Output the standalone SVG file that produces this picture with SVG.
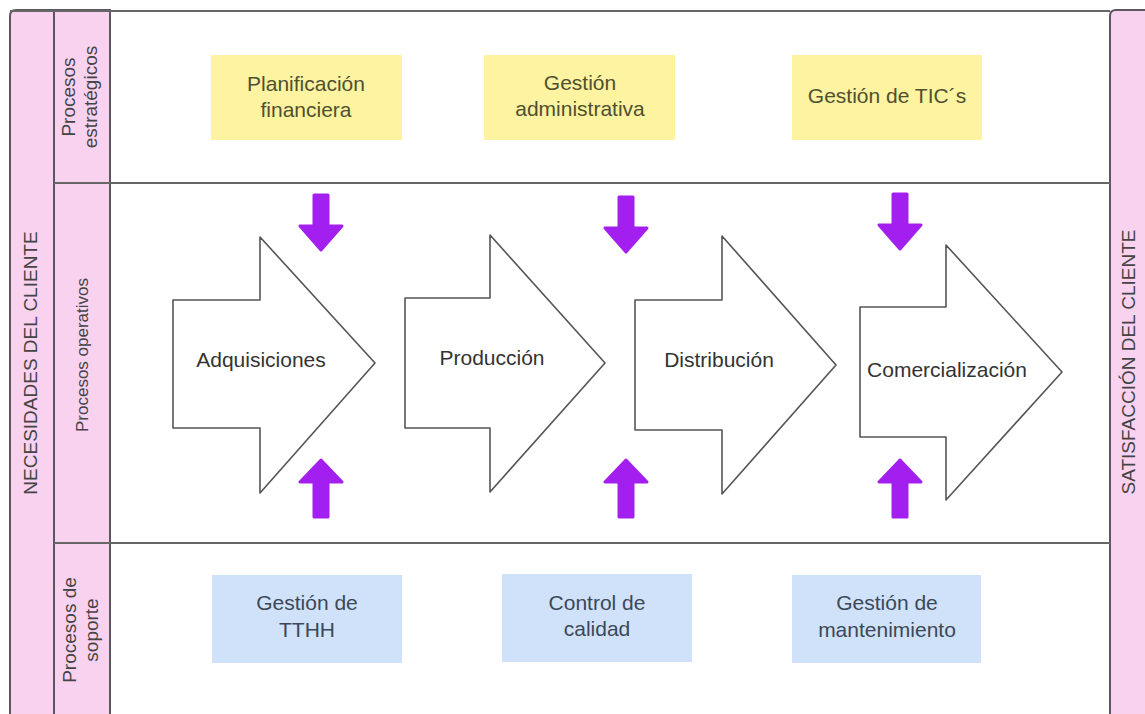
<svg xmlns="http://www.w3.org/2000/svg" width="1145" height="714" viewBox="0 0 1145 714">
  <style>
    .pink { fill: #f9d2f0; stroke: #5c5660; stroke-width: 2; }
    .rule { stroke: #666666; stroke-width: 2; fill: none; }
    .side { font-family: "Liberation Sans", Arial, sans-serif; font-size: 19px; fill: #444444; text-anchor: middle; }
    .lane { font-family: "Liberation Sans", Arial, sans-serif; font-size: 19px; fill: #444444; text-anchor: middle; }
    .strat rect { fill: #fdf3a0; }
    .strat text { font-family: "Liberation Sans", Arial, sans-serif; font-size: 21px; fill: #505030; text-anchor: middle; }
    .supp rect { fill: #cfe2f9; }
    .supp text { font-family: "Liberation Sans", Arial, sans-serif; font-size: 21px; fill: #3c4858; text-anchor: middle; }
    .stage path { fill: #ffffff; stroke: #555555; stroke-width: 1.6; stroke-linejoin: round; }
    .stage text { font-family: "Liberation Sans", Arial, sans-serif; font-size: 21px; fill: #333333; text-anchor: middle; }
    .flow { fill: #a31ff0; stroke: #a31ff0; stroke-width: 3; stroke-linejoin: round; }
  </style>
  <defs>
    <path id="down" d="M -7 0 H 7 V 31 H 21 L 0 55 L -21 31 H -7 Z"/>
    <path id="up" d="M -7 57 H 7 V 22 H 21 L 0 0 L -21 22 H -7 Z"/>
  </defs>

  <rect width="1145" height="714" fill="#ffffff"/>

  <!-- outer side bands -->
  <g id="necesidades">
    <path class="pink" d="M 10 730 V 16 Q 10 10 16 10 H 54 V 730"/>
    <text class="side" transform="translate(37 363) rotate(-90)">NECESIDADES DEL CLIENTE</text>
  </g>
  <g id="satisfaccion">
    <path class="pink" d="M 1110 730 V 16 Q 1110 10 1116 10 H 1160 V 730"/>
    <text class="side" transform="translate(1135 362) rotate(-90)">SATISFACCIÓN DEL CLIENTE</text>
  </g>

  <!-- lane header column -->
  <g id="lanes">
    <rect class="pink" x="54" y="10" width="56" height="720"/>
    <line class="rule" x1="10" y1="11" x2="1110" y2="11"/>
    <line class="rule" x1="54" y1="183" x2="1110" y2="183"/>
    <line class="rule" x1="54" y1="543" x2="1110" y2="543"/>
    <text class="lane" transform="translate(0 97) rotate(-90)"><tspan x="0" y="75">Procesos</tspan><tspan x="0" y="97">estratégicos</tspan></text>
    <text class="lane" style="font-size:17px" transform="translate(88 355) rotate(-90)">Procesos operativos</text>
    <text class="lane" transform="translate(0 630) rotate(-90)"><tspan x="0" y="76">Procesos de</tspan><tspan x="0" y="98">soporte</tspan></text>
  </g>

  <!-- strategic processes -->
  <g id="planificacion" class="strat">
    <rect x="211" y="55" width="191" height="85"/>
    <text x="306" y="91">Planificación</text>
    <text x="306" y="117">financiera</text>
  </g>
  <g id="gestion-administrativa" class="strat">
    <rect x="484" y="55" width="191" height="85"/>
    <text x="580" y="90">Gestión</text>
    <text x="580" y="116">administrativa</text>
  </g>
  <g id="gestion-tic" class="strat">
    <rect x="792" y="55" width="190" height="85"/>
    <text x="887" y="103">Gestión de TIC´s</text>
  </g>

  <!-- operative value chain -->
  <g id="adquisiciones" class="stage">
    <path d="M 173 300 H 260 V 237 L 375 363 L 260 493 V 428 H 173 Z"/>
    <text x="261" y="367">Adquisiciones</text>
  </g>
  <g id="produccion" class="stage">
    <path d="M 405 298 H 490 V 235 L 605 363 L 490 492 V 428 H 405 Z"/>
    <text x="492" y="365">Producción</text>
  </g>
  <g id="distribucion" class="stage">
    <path d="M 635 300 H 722 V 236 L 836 365 L 722 494 V 430 H 635 Z"/>
    <text x="719" y="367">Distribución</text>
  </g>
  <g id="comercializacion" class="stage">
    <path d="M 860 307 H 946 V 245 L 1062 372 L 946 500 V 437 H 860 Z"/>
    <text x="947" y="377">Comercialización</text>
  </g>

  <!-- support processes -->
  <g id="gestion-tthh" class="supp">
    <rect x="212" y="575" width="190" height="88"/>
    <text x="307" y="610">Gestión de</text>
    <text x="307" y="637">TTHH</text>
  </g>
  <g id="control-calidad" class="supp">
    <rect x="502" y="574" width="190" height="88"/>
    <text x="597" y="610">Control de</text>
    <text x="597" y="636">calidad</text>
  </g>
  <g id="gestion-mantenimiento" class="supp">
    <rect x="792" y="575" width="189" height="88"/>
    <text x="887" y="610">Gestión de</text>
    <text x="887" y="637">mantenimiento</text>
  </g>

  <!-- influence arrows between lanes -->
  <g id="connectors" class="flow">
    <use href="#down" x="321" y="195"/>
    <use href="#down" x="626" y="197"/>
    <use href="#down" x="900" y="194"/>
    <use href="#up" x="321" y="460"/>
    <use href="#up" x="626" y="460"/>
    <use href="#up" x="900" y="460"/>
  </g>
</svg>
